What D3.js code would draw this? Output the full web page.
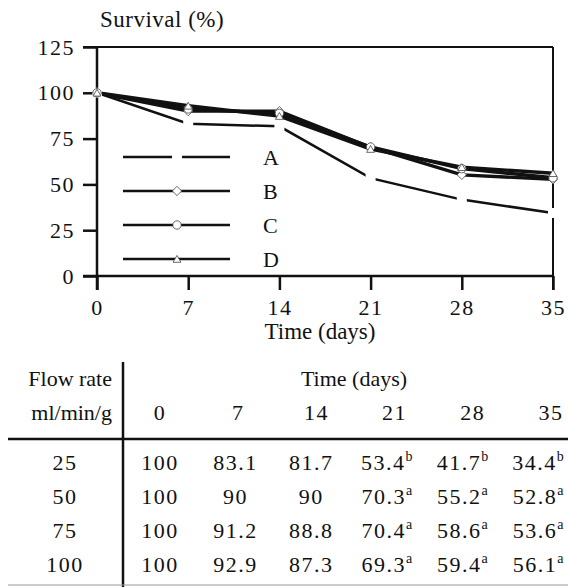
<!DOCTYPE html>
<html>
<head>
<meta charset="utf-8">
<script src="https://cdn.jsdelivr.net/npm/d3@7"></script>
<style>
  body { margin: 0; background: #fff; }
</style>
</head>
<body>
<script>
// survival data
var days = [0, 7, 14, 21, 28, 35];
var seriesNames = ["A", "B", "C", "D"];
var flowRates = ["25", "50", "75", "100"];
var survA = [100, 83.1, 81.7, 53.4, 41.7, 34.4];
var survB = [100, 90, 90, 70.3, 55.2, 52.8];
var survC = [100, 91.2, 88.8, 70.4, 58.6, 53.6];
var survD = [100, 92.9, 87.3, 69.3, 59.4, 56.1];
var letters = [
  ["", "", "", "b", "b", "b"],
  ["", "", "", "a", "a", "a"],
  ["", "", "", "a", "a", "a"],
  ["", "", "", "a", "a", "a"]
];
var yTicks = [0, 25, 50, 75, 100, 125];
var markers = ["gap", "diamond", "circle", "triangle"];

var allSeries = [survA, survB, survC, survD];
var serif = "'Liberation Serif', 'DejaVu Serif', 'Times New Roman', serif";

var W = 568, H = 587;
var svg = d3.select("body").append("svg").attr("width", W).attr("height", H)
  .style("font-family", serif);

var x = d3.scaleLinear().domain([0, 35]).range([97, 553]);
var y = d3.scaleLinear().domain([0, 125]).range([276, 47]);

// frame
svg.append("line").attr("x1", 83).attr("x2", 553).attr("y1", y(125)).attr("y2", y(125))
  .attr("stroke", "#111").attr("stroke-width", 2);
svg.append("line").attr("x1", 553).attr("x2", 553).attr("y1", y(125)).attr("y2", 290)
  .attr("stroke", "#111").attr("stroke-width", 2);

// axes
var yAxis = svg.append("g").attr("transform", "translate(97,0)")
  .call(d3.axisLeft(y).tickValues(yTicks).tickSize(14).tickPadding(8));
var xAxis = svg.append("g").attr("transform", "translate(0,276)")
  .call(d3.axisBottom(x).tickValues(days).tickSize(14).tickPadding(9));

[yAxis, xAxis].forEach(function(a){
  a.attr("font-family", null).attr("font-size", null);
  a.select(".domain").remove();
  a.selectAll(".tick line").attr("stroke", "#111").attr("stroke-width", 2.5);
  a.selectAll("text").attr("font-size", 22).attr("letter-spacing", 1.5).attr("fill", "#111");
});
svg.append("line").attr("x1", 97).attr("x2", 97).attr("y1", y(125)).attr("y2", 290)
  .attr("stroke", "#111").attr("stroke-width", 2.5);
svg.append("line").attr("x1", 83).attr("x2", 553).attr("y1", y(0)).attr("y2", y(0))
  .attr("stroke", "#111").attr("stroke-width", 2.5);

svg.append("text").attr("x", 100).attr("y", 27).attr("font-size", 23).attr("letter-spacing", 0.5)
  .text("Survival (%)");
svg.append("text").attr("x", 320).attr("y", 339).attr("font-size", 23)
  .attr("text-anchor", "middle").text("Time (days)");

var line = d3.line().x(function(d, i){ return x(days[i]); }).y(function(d){ return y(d); });

function drawMarker(g, type, cx, cy) {
  if (type === "gap") {
    g.append("rect").attr("x", cx - 5).attr("y", cy - 5).attr("width", 10).attr("height", 10)
      .attr("fill", "#fff");
  } else if (type === "diamond") {
    g.append("path").attr("d", d3.symbol(d3.symbolDiamond2, 55)())
      .attr("transform", "translate(" + cx + "," + cy + ")")
      .attr("fill", "#fff").attr("stroke", "#444").attr("stroke-width", 0.8);
  } else if (type === "circle") {
    g.append("circle").attr("cx", cx).attr("cy", cy).attr("r", 4.2)
      .attr("fill", "#fff").attr("stroke", "#444").attr("stroke-width", 0.8);
  } else {
    g.append("path").attr("d", d3.symbol(d3.symbolTriangle2, 45)())
      .attr("transform", "translate(" + cx + "," + (cy + 1) + ")")
      .attr("fill", "#fff").attr("stroke", "#444").attr("stroke-width", 0.8);
  }
}

var plot = svg.append("g");
allSeries.forEach(function(s, k){
  plot.append("path").datum(s).attr("d", line).attr("fill", "none")
    .attr("stroke", "#111").attr("stroke-width", k === 0 ? 2.5 : 3.4);
});
allSeries.forEach(function(s, k){
  s.forEach(function(v, i){
    drawMarker(plot, markers[k], x(days[i]), y(v));
  });
});

// legend
var legY = d3.scalePoint().domain(seriesNames).range([157, 259]);
seriesNames.forEach(function(n, k){
  var g = svg.append("g");
  g.append("line").attr("x1", 123).attr("x2", 230).attr("y1", legY(n)).attr("y2", legY(n))
    .attr("stroke", "#111").attr("stroke-width", 2.5);
  drawMarker(g, markers[k], 177, legY(n));
  g.append("text").attr("x", 263).attr("y", legY(n) + 8).attr("font-size", 22).text(n);
});

// table
var tbl = svg.append("g");
var colX = d3.scalePoint().domain(days).range([160, 551]);
var cellX = d3.scalePoint().domain(days).range([160, 538]);
var rowY = d3.scalePoint().domain(flowRates).range([470, 572]);

tbl.append("line").attr("x1", 8).attr("x2", 568).attr("y1", 439).attr("y2", 439)
  .attr("stroke", "#111").attr("stroke-width", 2.5);
tbl.append("line").attr("x1", 123).attr("x2", 123).attr("y1", 362).attr("y2", 587)
  .attr("stroke", "#111").attr("stroke-width", 2.5);
tbl.append("line").attr("x1", 8).attr("x2", 568).attr("y1", 585).attr("y2", 585)
  .attr("stroke", "#999").attr("stroke-width", 1.2);

tbl.append("text").attr("x", 112).attr("y", 386).attr("font-size", 22).attr("text-anchor", "end")
  .text("Flow rate");
tbl.append("text").attr("x", 112).attr("y", 420).attr("font-size", 22).attr("text-anchor", "end")
  .text("ml/min/g");
tbl.append("text").attr("x", 354).attr("y", 386).attr("font-size", 22).attr("text-anchor", "middle")
  .text("Time (days)");

tbl.selectAll(".colhead").data(days).enter().append("text")
  .attr("x", function(d){ return colX(d); }).attr("y", 420)
  .attr("font-size", 22).attr("letter-spacing", 1.5).attr("text-anchor", "middle")
  .text(function(d){ return d; });

flowRates.forEach(function(f, r){
  tbl.append("text").attr("x", 65).attr("y", rowY(f)).attr("font-size", 22)
    .attr("letter-spacing", 1.5).attr("text-anchor", "middle").text(f);
  allSeries[r].forEach(function(v, i){
    var t = tbl.append("text").attr("x", cellX(days[i])).attr("y", rowY(f))
      .attr("font-size", 22).attr("letter-spacing", 1.5).attr("text-anchor", "middle");
    t.append("tspan").text(v);
    if (letters[r][i]) {
      t.append("tspan").attr("dy", -9).attr("font-size", 14).attr("letter-spacing", 0)
        .text(letters[r][i]);
    }
  });
});

svg.selectAll("text").style("font-family", serif).attr("fill", "#111");
</script>
</body>
</html>
